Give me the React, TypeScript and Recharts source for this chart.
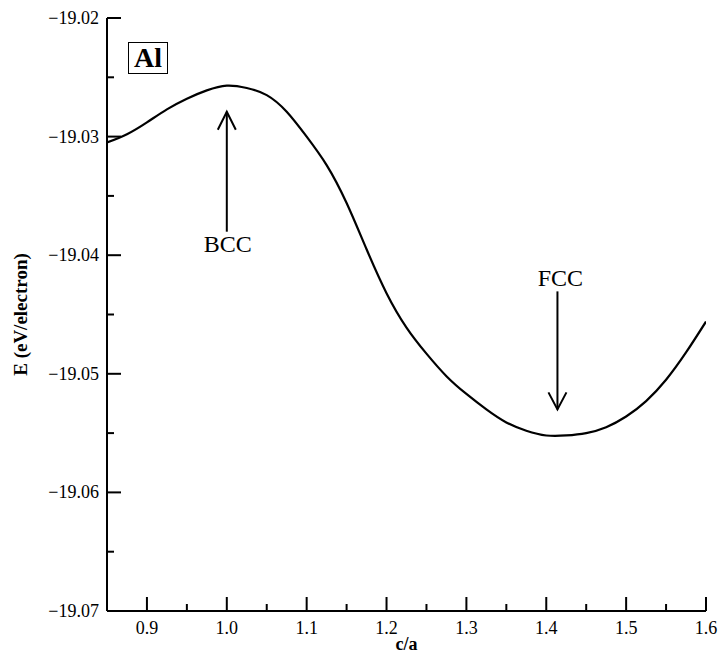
import { LineChart, Line, XAxis, YAxis, ReferenceDot } from 'recharts';

const cOverA = [
  0.85, 0.875, 0.9, 0.925, 0.95, 0.975, 1.0, 1.025, 1.05, 1.075, 1.1, 1.125, 1.15, 1.175, 1.2, 1.225,
  1.25, 1.275, 1.3, 1.325, 1.35, 1.375, 1.4, 1.425, 1.45, 1.475, 1.5, 1.525, 1.55, 1.575, 1.6,
];
const energy = [
  -19.0305, -19.0298, -19.0288, -19.0277, -19.0268, -19.0261, -19.0257, -19.0259, -19.0265, -19.0279,
  -19.03, -19.0324, -19.0356, -19.0395, -19.0432, -19.0461, -19.0483, -19.0502, -19.0517, -19.053,
  -19.0541, -19.0548, -19.0552, -19.0552, -19.055, -19.0545, -19.0536, -19.0523, -19.0505, -19.0482,
  -19.0456,
];

const xMajorTicks = [0.9, 1.0, 1.1, 1.2, 1.3, 1.4, 1.5, 1.6];
const xMinorTicks = [0.95, 1.05, 1.15, 1.25, 1.35, 1.45, 1.55];
const yMajorTicks = [-19.07, -19.06, -19.05, -19.04, -19.03, -19.02];
const yMinorTicks = [-19.065, -19.055, -19.045, -19.035, -19.025];

// annotation arrow tips (c/a, E)
const bccTip = { x: 1.0, y: -19.0279 };
const fccTip = { x: 1.414, y: -19.053 };

const data = cOverA.map((ca, i) => ({ ca, e: energy[i] }));
const xTicks = [...xMajorTicks, ...xMinorTicks].sort((a, b) => a - b);
const yTicks = [...yMajorTicks, ...yMinorTicks].sort((a, b) => a - b);

const FONT = "'Liberation Serif', 'DejaVu Serif', serif";
const MAJOR = 14;
const MINOR = 7;

const isMajorX = (v: number) => xMajorTicks.some((t) => Math.abs(t - v) < 1e-6);
const isMajorY = (v: number) => yMajorTicks.some((t) => Math.abs(t - v) < 1e-6);
const fmtY = (v: number) => v.toFixed(2).replace('-', '\u2212');

const BottomTick = ({ x, y, payload }: any) => {
  const major = isMajorX(payload.value);
  return (
    <g>
      <line x1={x} x2={x} y1={y} y2={y - (major ? MAJOR : MINOR)} stroke="#000" strokeWidth={2} />
      {major && (
        <text x={x} y={y + 23} textAnchor="middle" style={{ fontSize: 18, fontFamily: FONT }} fill="#000">
          {payload.value.toFixed(1)}
        </text>
      )}
    </g>
  );
};

const TopTick = ({ x, y, payload }: any) => {
  const major = isMajorX(payload.value);
  return <line x1={x} x2={x} y1={y} y2={y + (major ? MAJOR : MINOR)} stroke="#000" strokeWidth={2} />;
};

const LeftTick = ({ x, y, payload }: any) => {
  const major = isMajorY(payload.value);
  return (
    <g>
      <line x1={x} x2={x + (major ? MAJOR : MINOR)} y1={y} y2={y} stroke="#000" strokeWidth={2} />
      {major && (
        <text x={x - 8} y={y + 6} textAnchor="end" style={{ fontSize: 18, fontFamily: FONT }} fill="#000">
          {fmtY(payload.value)}
        </text>
      )}
    </g>
  );
};

const RightTick = ({ x, y, payload }: any) => {
  const major = isMajorY(payload.value);
  return <line x1={x} x2={x - (major ? MAJOR : MINOR)} y1={y} y2={y} stroke="#000" strokeWidth={2} />;
};

const BccArrow = ({ cx, cy }: any) => (
  <g>
    <line x1={cx} x2={cx} y1={cy} y2={cy + 120} stroke="#000" strokeWidth={2} />
    <polyline
      points={`${cx - 9},${cy + 18} ${cx},${cy} ${cx + 9},${cy + 18}`}
      fill="none"
      stroke="#000"
      strokeWidth={2}
    />
    <text x={cx + 1} y={cy + 140} textAnchor="middle" style={{ fontSize: 24, fontFamily: FONT }} fill="#000">
      BCC
    </text>
  </g>
);

const FccArrow = ({ cx, cy }: any) => (
  <g>
    <line x1={cx} x2={cx} y1={cy - 118} y2={cy} stroke="#000" strokeWidth={2} />
    <polyline
      points={`${cx - 9},${cy - 17} ${cx},${cy} ${cx + 9},${cy - 17}`}
      fill="none"
      stroke="#000"
      strokeWidth={2}
    />
    <text x={cx + 3} y={cy - 123} textAnchor="middle" style={{ fontSize: 24, fontFamily: FONT }} fill="#000">
      FCC
    </text>
  </g>
);

const axisLine = { stroke: '#000', strokeWidth: 2 };

export default function App() {
  return (
    <div style={{ position: 'absolute', left: 0, top: 0, width: 720, height: 657, fontFamily: FONT }}>
      <LineChart width={720} height={657} data={data} margin={{ top: 18, right: 14, bottom: 0, left: 0 }}>
        <XAxis
          dataKey="ca"
          type="number"
          domain={[0.85, 1.6]}
          ticks={xTicks}
          interval={0}
          tick={<BottomTick />}
          tickLine={false}
          tickSize={0}
          tickMargin={0}
          axisLine={axisLine}
          height={46}
          allowDataOverflow
          label={{
            content: ({ viewBox }: any) => (
              <text
                x={viewBox.x + viewBox.width / 2}
                y={viewBox.y + 39}
                textAnchor="middle"
                style={{ fontSize: 18, fontWeight: 'bold', fontFamily: FONT }}
                fill="#000"
              >
                c/a
              </text>
            ),
          }}
        />
        <XAxis
          xAxisId="top"
          orientation="top"
          type="number"
          domain={[0.85, 1.6]}
          ticks={xTicks}
          interval={0}
          tick={<TopTick />}
          tickLine={false}
          tickSize={0}
          tickMargin={0}
          axisLine={axisLine}
          height={0}
          allowDataOverflow
        />
        <YAxis
          type="number"
          domain={[-19.07, -19.02]}
          ticks={yTicks}
          interval={0}
          tick={<LeftTick />}
          tickLine={false}
          tickSize={0}
          tickMargin={0}
          axisLine={axisLine}
          width={107}
          allowDataOverflow
          label={{
            content: ({ viewBox }: any) => {
              const cx = 20;
              const cy = viewBox.y + viewBox.height / 2;
              return (
                <text
                  x={cx}
                  y={cy}
                  transform={`rotate(-90 ${cx} ${cy})`}
                  textAnchor="middle"
                  dominantBaseline="central"
                  style={{ fontSize: 19, fontWeight: 'bold', fontFamily: FONT }}
                  fill="#000"
                >
                  E (eV/electron)
                </text>
              );
            },
          }}
        />
        <YAxis
          yAxisId="right"
          orientation="right"
          type="number"
          domain={[-19.07, -19.02]}
          ticks={yTicks}
          interval={0}
          tick={<RightTick />}
          tickLine={false}
          tickSize={0}
          tickMargin={0}
          axisLine={axisLine}
          width={0}
          allowDataOverflow
        />
        <Line
          type="natural"
          dataKey="e"
          stroke="#000"
          strokeWidth={2.2}
          dot={false}
          isAnimationActive={false}
        />
        <ReferenceDot x={bccTip.x} y={bccTip.y} r={0} shape={<BccArrow />} />
        <ReferenceDot x={fccTip.x} y={fccTip.y} r={0} shape={<FccArrow />} />
      </LineChart>
      <div
        style={{
          position: 'absolute',
          left: 128,
          top: 42,
          width: 38,
          height: 30,
          border: '1.5px solid #000',
          fontFamily: FONT,
          fontWeight: 'bold',
          fontSize: 28,
          lineHeight: '30px',
          textAlign: 'center',
        }}
      >
        Al
      </div>
    </div>
  );
}
